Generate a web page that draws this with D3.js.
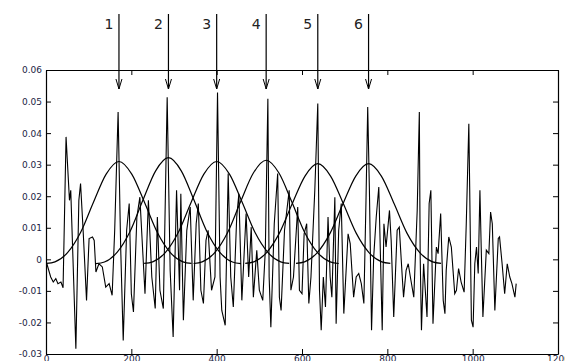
<!DOCTYPE html>
<html>
<head>
<meta charset="utf-8">
<script src="https://cdn.jsdelivr.net/npm/d3@7"></script>
<style>
  body { margin: 0; background: #fff; }
  svg { display: block; }
  .tick text { font-family: 'DejaVu Sans', sans-serif; font-size: 9px; fill: #1a1d44; }
  .num { font-family: 'DejaVu Sans', sans-serif; font-size: 14px; fill: #222; }
</style>
</head>
<body>
<svg id="chart"></svg>
<script>
// axis ticks
const xTicks = [0, 200, 400, 600, 800, 1000, 1200];
const yTicks = [-0.03, -0.02, -0.01, 0, 0.01, 0.02, 0.03, 0.04, 0.05, 0.06];
const yTickLabels = ['-0.03', '-0.02', '-0.01', '0', '0.01', '0.02', '0.03', '0.04', '0.05', '0.06'];

// analysis frames (arrows + windows)
const frameNumbers = ['1', '2', '3', '4', '5', '6'];
const frameCenters = [171, 287, 400, 516, 637, 756];
const windowPeaks = [0.0310, 0.0322, 0.0310, 0.0314, 0.0303, 0.0303];
const windowOffsets = [-170, -150, -120, -90, -60, -30, 0, 30, 60, 90, 120, 150, 170];
const windowShape = [-0.042, -0.026, 0.071, 0.274, 0.581, 0.871, 1, 0.871, 0.581, 0.274, 0.071, -0.026, -0.042];

// speech signal (sample index, amplitude)
const signalX = [2, 11, 17, 23, 28, 35, 40, 47, 55, 58, 70, 77, 81, 87, 95, 101, 109, 113, 117, 124,
  132, 140, 148, 155, 161, 169, 175, 181, 189, 195, 200, 205, 213, 220, 232, 240, 248, 256, 261, 267,
  275, 284, 291, 298, 306, 313, 316, 322, 330, 338, 345, 352, 357, 363, 369, 375, 380, 388, 396, 402,
  408, 412, 420, 427, 433, 439, 447, 452, 459, 469, 475, 481, 486, 494, 500, 508, 514, 520, 523, 527,
  535, 543, 547, 551, 559, 570, 574, 580, 590, 594, 600, 605, 611, 616, 621, 630, 637, 641, 645, 650,
  655, 661, 666, 670, 677, 680, 686, 692, 698, 708, 713, 721, 727, 733, 739, 745, 750, 754, 758, 763,
  768, 774, 780, 788, 792, 797, 805, 809, 815, 823, 828, 835, 838, 844, 849, 854, 862, 870, 875, 877,
  880, 885, 893, 898, 902, 907, 915, 919, 925, 931, 935, 938, 944, 950, 954, 958, 962, 967, 973, 980,
  985, 991, 993, 997, 1001, 1005, 1009, 1013, 1017, 1020, 1024, 1032, 1038, 1042, 1046, 1052, 1060, 1063, 1069, 1075,
  1081, 1087, 1092, 1099, 1102];
const signalY = [-0.0014, -0.0056, -0.0072, -0.0061, -0.0077, -0.0072, -0.0090, 0.0388, 0.0187, 0.0219,
  -0.0283, 0.0187, 0.0240, 0.0092, -0.0130, 0.0066, 0.0071, 0.0060, -0.0040, -0.0014,
  -0.0024, -0.0088, -0.0077, -0.0114, 0.0092, 0.0467, 0.0039, -0.0257, 0.0092, 0.0177,
  -0.0109, -0.0167, 0.0134, 0.0197, -0.0109, 0.0187, -0.0056, -0.0156, 0.0134, -0.0098,
  -0.0156, 0.0514, -0.0035, -0.0246, 0.0219, -0.0098, 0.0208, -0.0193, 0.0092, 0.0166,
  -0.0130, 0.0113, 0.0177, -0.0098, -0.0140, 0.0060, 0.0092, -0.0098, -0.0056, 0.0529,
  -0.0056, -0.0162, -0.0209, 0.0272, -0.0056, -0.0151, 0.0134, 0.0208, -0.0130, 0.0145,
  -0.0056, 0.0102, -0.0120, 0.0029, -0.0098, -0.0130, 0.0029, 0.0509, -0.0056, -0.0215,
  0.0113, 0.0272, -0.0120, -0.0162, 0.0092, 0.0219, -0.0098, -0.0056, 0.0166, -0.0098,
  -0.0109, 0.0081, 0.0113, -0.0140, -0.0056, 0.0219, 0.0494, -0.0098, -0.0225, -0.0056,
  -0.0151, 0.0134, -0.0056, -0.0120, 0.0197, -0.0204, 0.0092, 0.0177, -0.0172, 0.0081,
  0.0050, -0.0120, -0.0056, -0.0045, -0.0077, -0.0140, 0.0187, 0.0483, 0.0219, -0.0225,
  0.0007, 0.0134, 0.0229, -0.0225, 0.0113, 0.0039, 0.0155, 0.0060, -0.0183, 0.0092,
  0.0102, -0.0056, -0.0120, -0.0035, -0.0014, -0.0056, -0.0120, 0.0155, 0.0467, 0.0007,
  -0.0225, -0.0014, -0.0183, 0.0177, 0.0219, -0.0204, 0.0039, 0.0018, 0.0145, -0.0130,
  -0.0172, -0.0035, 0.0071, 0.0039, -0.0035, -0.0109, -0.0098, -0.0029, -0.0072, -0.0104,
  0.0113, 0.0430, 0.0229, -0.0193, -0.0215, -0.0014, 0.0039, -0.0045, 0.0219, 0.0039,
  -0.0183, 0.0029, 0.0018, 0.0150, 0.0113, -0.0162, 0.0066, 0.0071, -0.0014, -0.0109,
  -0.0014, -0.0056, -0.0077, -0.0120, -0.0077];

const width = 565;
const height = 361;

const svg = d3.select('#chart')
    .attr('width', width)
    .attr('height', height);

const x = d3.scaleLinear().domain([0, 1200]).range([46, 558]);
const y = d3.scaleLinear().domain([-0.03, 0.06]).range([354, 70]);

// axes, ticks pointing inward
svg.append('g')
    .attr('transform', 'translate(' + x(0) + ',0)')
    .call(d3.axisLeft(y).tickValues(yTicks).tickFormat((d, i) => yTickLabels[i])
        .tickSizeInner(-5).tickSizeOuter(0).tickPadding(4));

svg.append('g')
    .attr('transform', 'translate(' + x(1200) + ',0)')
    .call(d3.axisRight(y).tickValues(yTicks).tickFormat('').tickSizeInner(-5).tickSizeOuter(0));

svg.append('g')
    .attr('transform', 'translate(0,' + y(-0.03) + ')')
    .call(d3.axisBottom(x).tickValues(xTicks).tickFormat(d3.format('d'))
        .tickSizeInner(-5).tickSizeOuter(0).tickPadding(2));

svg.append('g')
    .attr('transform', 'translate(0,' + y(0.06) + ')')
    .call(d3.axisTop(x).tickValues(xTicks).tickFormat('').tickSizeInner(-5).tickSizeOuter(0));

svg.selectAll('.domain').attr('stroke', '#000').attr('stroke-width', 1.2);
svg.selectAll('.tick line').attr('stroke', '#000');

// signal
const signal = signalX.map((d, i) => [d, signalY[i]]);
const line = d3.line().x(d => x(d[0])).y(d => y(d[1]));

svg.append('path')
    .datum(signal)
    .attr('d', line)
    .attr('fill', 'none')
    .attr('stroke', '#000')
    .attr('stroke-width', 1.1);

// analysis windows
const windowLine = d3.line().x(d => x(d[0])).y(d => y(d[1])).curve(d3.curveMonotoneX);

frameCenters.forEach((c, k) => {
  const pts = windowOffsets
      .map((o, i) => [c + o, windowShape[i] * windowPeaks[k]])
      .filter(d => d[0] >= 0);
  svg.append('path')
      .datum(pts)
      .attr('d', windowLine)
      .attr('fill', 'none')
      .attr('stroke', '#000')
      .attr('stroke-width', 1.2);
});

// arrows with frame numbers
const arrows = svg.append('g');
frameCenters.forEach((c, k) => {
  const ax = x(c);
  arrows.append('line')
      .attr('x1', ax).attr('x2', ax)
      .attr('y1', 14).attr('y2', 89)
      .attr('stroke', '#000').attr('stroke-width', 1.2);
  arrows.append('path')
      .attr('d', 'M' + (ax - 3) + ',79L' + ax + ',89L' + (ax + 3) + ',79')
      .attr('fill', 'none').attr('stroke', '#000').attr('stroke-width', 1);
  arrows.append('text')
      .attr('class', 'num')
      .attr('x', ax - 10)
      .attr('y', 29)
      .attr('text-anchor', 'middle')
      .text(frameNumbers[k]);
});
</script>
</body>
</html>
